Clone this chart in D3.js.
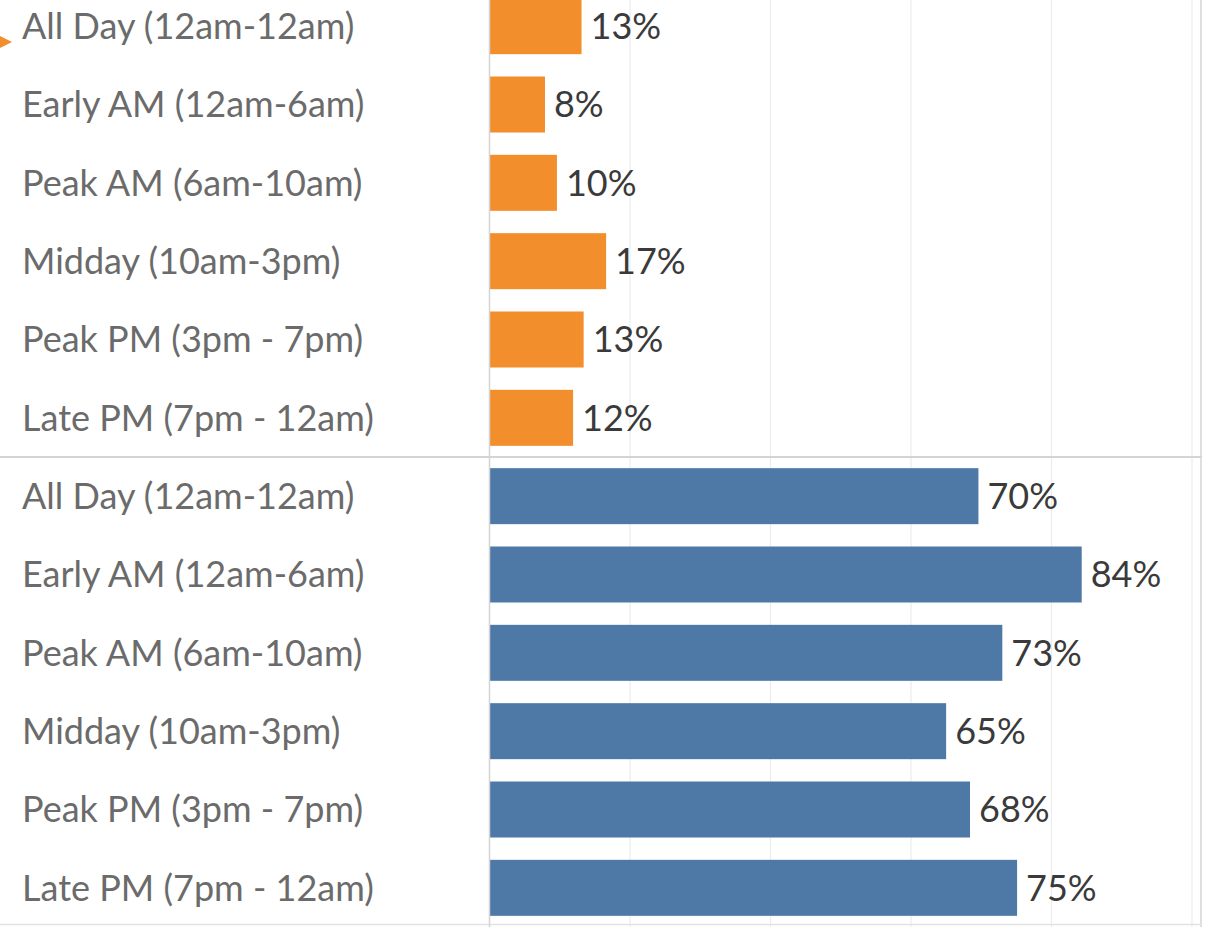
<!DOCTYPE html>
<html>
<head>
<meta charset="utf-8">
<script src="https://cdn.jsdelivr.net/npm/d3@7"></script>
<style>
  html, body { margin: 0; padding: 0; background: #fff; }
  svg { display: block; }
</style>
</head>
<body>
<svg width="1205" height="927"></svg>
<script>
// Time-of-day categories (same for both panels)
const periods = [
  "All Day (12am-12am)",
  "Early AM (12am-6am)",
  "Peak AM (6am-10am)",
  "Midday (10am-3pm)",
  "Peak PM (3pm - 7pm)",
  "Late PM (7pm - 12am)"
];

// Percent values (labels show them rounded)
const topValues = [13.1, 7.9, 9.6, 16.6, 13.4, 11.9];
const bottomValues = [69.6, 84.3, 73.0, 65.0, 68.4, 75.1];

const gridTicks = [20, 40, 60, 80, 100];

const svg = d3.select("svg");
const width = +svg.attr("width");
const height = +svg.attr("height");

const labelX = 22;
const splitY = 457;
const paneRight = 1200;

const x = d3.scaleLinear()
    .domain([0, 100])
    .range([489.5, 1192]);

const panels = [
  {values: topValues, color: "#f28e2b", y0: splitY - 470, y1: splitY},
  {values: bottomValues, color: "#4e79a7", y0: splitY, y1: splitY + 470}
];

// Vertical gridlines
svg.append("g")
  .selectAll("line")
  .data(gridTicks)
  .enter().append("line")
    .attr("x1", d => x(d))
    .attr("x2", d => x(d))
    .attr("y1", 0)
    .attr("y2", height)
    .attr("stroke", "#ececec")
    .attr("stroke-width", 1.2);

// Pane border on the right and bottom line
svg.append("line")
    .attr("x1", paneRight + 1).attr("x2", paneRight + 1)
    .attr("y1", 0).attr("y2", height)
    .attr("stroke", "#d4d4d4").attr("stroke-width", 1.5);

svg.append("line")
    .attr("x1", 0).attr("x2", paneRight + 2)
    .attr("y1", height - 2.5).attr("y2", height - 2.5)
    .attr("stroke", "#e2e2e2").attr("stroke-width", 1.5);

panels.forEach(p => {
  const y = d3.scaleBand()
      .domain(periods)
      .range([p.y0, p.y1])
      .paddingInner(0.285)
      .paddingOuter(0.1425);

  const g = svg.append("g");

  g.selectAll("rect")
    .data(p.values)
    .enter().append("rect")
      .attr("x", x(0))
      .attr("y", (d, i) => y(periods[i]))
      .attr("width", d => x(d) - x(0))
      .attr("height", y.bandwidth())
      .attr("fill", p.color);

  // Category labels
  g.selectAll("text.cat")
    .data(periods)
    .enter().append("text")
      .attr("class", "cat")
      .attr("x", labelX)
      .attr("y", d => y(d) + y.bandwidth() / 2)
      .attr("dy", "0.36em")
      .attr("font-family", "Lato, sans-serif")
      .attr("font-size", "36px")
      .attr("fill", "#6b6b6b")
      .text(d => d);

  // Value labels
  g.selectAll("text.val")
    .data(p.values)
    .enter().append("text")
      .attr("class", "val")
      .attr("x", d => x(d) + 9)
      .attr("y", (d, i) => y(periods[i]) + y.bandwidth() / 2)
      .attr("dy", "0.36em")
      .attr("font-family", "Lato, sans-serif")
      .attr("font-size", "36px")
      .attr("fill", "#3a3a3a")
      .text(d => Math.round(d) + "%");
});

// Zero axis line
svg.append("line")
    .attr("x1", x(0)).attr("x2", x(0))
    .attr("y1", 0).attr("y2", height)
    .attr("stroke", "#d4d4d4").attr("stroke-width", 1.5);

// Panel separator
svg.append("line")
    .attr("x1", 0).attr("x2", paneRight + 2)
    .attr("y1", splitY).attr("y2", splitY)
    .attr("stroke", "#d4d4d4").attr("stroke-width", 2);

// Small orange marker at the left edge
svg.append("path")
    .attr("d", "M0,36 L12,42 L0,48 Z")
    .attr("fill", "#f28e2b");
</script>
</body>
</html>
